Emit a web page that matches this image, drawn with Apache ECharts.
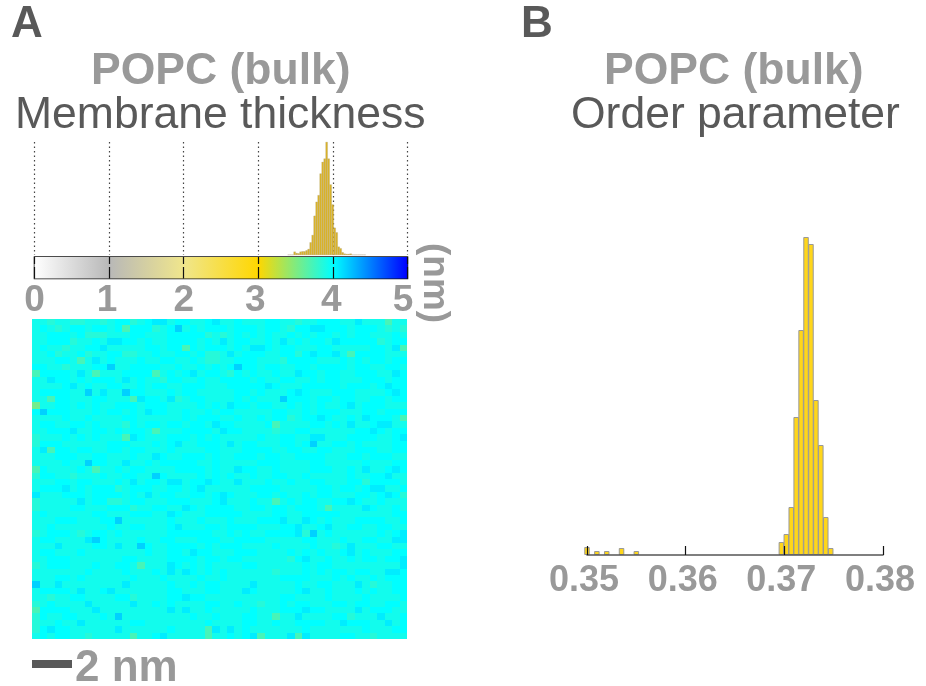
<!DOCTYPE html>
<html><head><meta charset="utf-8">
<style>html,body{margin:0;padding:0;background:#fff}#c{width:926px;height:686px}</style>
<script src="https://cdn.jsdelivr.net/npm/echarts@6/dist/echarts.min.js"></script>
</head><body><div id="c"></div>
<script>
const colorStops = ['#ffffff','#b8b8b8','#f0e68c','#ffd700','#00ffff','#0000ff'];
const colorbarTicks = [0,1,2,3,4,5];
// Panel A histogram: bin centre (nm) and relative count
const thicknessBins = [3.406,3.433,3.46,3.487,3.514,3.541,3.567,3.594,3.621,3.648,3.675,3.702,3.729,3.755,3.782,3.809,3.836,3.863,3.89,3.916,3.943,3.97,3.997,4.024,4.051,4.078,4.104,4.131,4.158,4.185,4.212,4.239,4.266,4.293,4.319,4.346,4.373,4.4,4.427];
const thicknessCounts = [1,1,1,10,6,5,10,11,11,14,18,38,60,118,160,180,245,280,290,340,290,212,152,82,68,25,20,8,4,3,3,4,1,1,1,1,1,1,1];
// Panel B histogram
const orderBins = [0.35,0.351,0.352,0.3535,0.355,0.3697,0.3702,0.3707,0.3712,0.3717,0.3722,0.3727,0.3732,0.3737,0.3742,0.3747];
const orderCounts = [8,4,4,7,4,13,21,48,138,225,318,311,155,110,38,7];
// Panel A map: one digit per cell, indexing thicknessLevels
const thicknessLevels = [3.55,3.72,3.85,3.93,4.0,4.07,4.18];
const thicknessRows = [
"33233 22332 34423 45534 43345 33433 34433 23344 43353 33133",
"34323 44344 34144 42346 34344 43444 34432 44554 44344 43232",
"33444 34222 33344 33344 44423 23434 34334 34344 34344 33343",
"33444 23343 55443 43344 44343 53443 34353 43443 54444 42344",
"34332 33445 33333 44344 14344 43435 54344 33344 33333 44351",
"33423 34233 44223 34334 43422 35344 43344 24544 53144 44333",
"33344 31353 43334 33443 34322 33444 33324 44433 34343 44344",
"44332 33344 63344 44334 33434 34644 34433 44344 44344 33443",
"14444 35313 33444 41343 45344 32434 33433 54434 43344 43354",
"33544 34344 43534 33244 33433 44443 43344 33434 43334 44344",
"33334 53433 44334 34433 44433 34444 45433 34444 43444 34544",
"34444 33635 33644 33343 44333 33443 43334 54333 44433 33454",
"33144 33344 33315 44352 34433 33434 33364 44344 34433 44344",
"03344 34343 34443 44433 33434 35443 44334 34343 34534 44333",
"46444 33343 44343 54433 43343 44333 33443 34344 43334 43444",
"33334 33433 33443 33333 43444 33433 43442 34454 33435 44431",
"34433 44343 33243 44344 34435 44333 34133 33443 43533 45533",
"33444 53344 34344 31333 44443 54433 33233 44333 33344 54344",
"23334 34343 33154 33344 43434 33333 43344 33553 33444 43345",
"24443 33333 44433 34345 33444 35344 33344 34633 44343 33344",
"35144 34433 44344 33343 33344 33344 44334 43344 33344 43344",
"33344 43344 33343 35433 44434 33444 34433 44443 33443 44433",
"33334 33644 33533 43444 44334 33333 44433 33443 33334 33344",
"14333 34313 34344 33334 44434 33544 33433 33444 33435 33454",
"24433 23334 33443 36433 33434 34334 33443 34333 33433 44533",
"33344 34433 34353 44355 34454 33533 34334 33443 33442 44443",
"34445 34344 42344 43344 34533 33334 44433 33344 34434 55334",
"53334 44344 44343 53443 34434 54333 44343 34344 33344 34542",
"23333 35344 22344 33344 43334 53334 33134 34433 44543 34333",
"23333 44333 44423 34433 54344 44334 43443 44431 33335 43343",
"34333 33344 33344 43354 33344 44433 33443 34444 43333 33344",
"33344 43334 46333 33343 33433 34333 44453 35434 33344 44334",
"33433 33333 43344 33345 33344 34444 33344 53345 33443 34433",
"23444 32344 34333 33344 44443 34343 34444 52634 33333 34345",
"34433 33564 33334 33443 33444 33444 43333 34433 34334 43355",
"33353 33344 35336 43344 44343 44433 33433 33433 23533 34433",
"34433 34333 33333 43344 35443 33444 33334 34343 34534 33344",
"33444 33333 33443 33344 44344 34433 33332 45334 33434 43445",
"23444 33343 34431 33354 34343 33344 33333 34344 33333 33335",
"33333 33433 33433 34353 54343 43333 33233 34343 44344 33554",
"33344 34333 33343 33433 33433 43333 33344 44333 43433 43444",
"63353 33333 33533 33343 34344 33335 33333 43344 33353 23344",
"34444 35334 53333 33344 33344 33354 33333 45334 33343 43344",
"33233 44333 34423 33344 54433 33333 33344 33334 33334 33334",
"23433 33533 33353 34343 33344 33433 23343 44333 44344 33443",
"14444 33353 33333 33353 53343 33334 33344 45443 33353 44433",
"24334 43334 36333 33333 34334 33344 33133 53333 44233 35334",
"23343 35333 33344 33333 33343 33344 33433 44443 35444 33534",
"24544 33333 35333 33343 33315 35343 33333 34333 33334 33344",
"34344 33233 33313 34533 33313 34345 13335 15333 34433 23333"
];
const heat = [];
thicknessRows.forEach((row, r) => row.replace(/ /g,'').split('').forEach((d, c) => heat.push([c, r, thicknessLevels[+d]])));
const idx = Array.from({length:50},(_, i)=>i);

const GRAY='#999999', DARK='#595959', SANS='"Liberation Sans", Arial, sans-serif';
const colorbarOffsets = {0:0,1:4,2:0,3:6,4:3,5:9};

const chart = echarts.init(document.getElementById('c'), null, {renderer:'canvas'});
function txt(text,x,y,size,weight,color,extra){
  return Object.assign({type:'text',left:x,top:y,z:10,style:{text,fontSize:size,fontWeight:weight,fill:color,fontFamily:SANS}},extra||{});
}
chart.setOption({
  animation:false,
  backgroundColor:'#fff',
  grid:[
    {left:34.5,top:142,width:373,height:113,show:false},
    {left:34.5,top:257,width:373,height:21.5,show:true,borderColor:'#111',borderWidth:1.5,backgroundColor:'transparent'},
    {left:32,top:319,width:375,height:320,show:false},
    {left:587,top:200,width:296,height:355,show:false}
  ],
  xAxis:[
    {gridIndex:0,type:'value',min:0,max:5,interval:1,axisLine:{show:false},axisTick:{show:false},axisLabel:{show:false},
      splitLine:{show:true,lineStyle:{type:[1.5,3],color:'#444',width:1.2}}},
    {gridIndex:1,type:'value',min:0,max:5,interval:1,z:6,axisLine:{show:false},axisTick:{show:false},
      axisLabel:{margin:4,fontFamily:SANS,fontWeight:'bold',fontSize:37,color:GRAY,
        formatter:v=>`{t${v}|${v}}`,
        rich:Object.fromEntries(colorbarTicks.map(t=>['t'+t,{fontFamily:SANS,fontWeight:'bold',fontSize:37,color:GRAY,padding:[0,colorbarOffsets[t],0,0]}]))},
      splitLine:{show:true,lineStyle:{type:[7,3,12,100],color:'#111',width:1.2}}},
    {gridIndex:2,type:'category',data:idx,show:false},
    {gridIndex:3,type:'value',min:0.35,max:0.38,interval:0.01,z:6,
      axisLine:{show:true,lineStyle:{color:'#555',width:1.5}},
      axisTick:{show:true,inside:true,length:9,lineStyle:{color:'#111',width:1.2}},
      splitLine:{show:false},
      axisLabel:{margin:8,padding:[0,6,0,0],fontFamily:SANS,fontWeight:'bold',fontSize:36,color:GRAY,formatter:v=>v.toFixed(2),showMinLabel:true,showMaxLabel:true}}
  ],
  yAxis:[
    {gridIndex:0,type:'value',min:0,max:340,show:false},
    {gridIndex:1,type:'value',min:0,max:1,show:false},
    {gridIndex:2,type:'category',data:idx,inverse:true,show:false},
    {gridIndex:3,type:'value',min:0,max:355,show:false}
  ],
  visualMap:{show:false,type:'continuous',min:0,max:5,seriesIndex:2,dimension:2,inRange:{color:colorStops}},
  series:[
    {type:'bar',xAxisIndex:0,yAxisIndex:0,barWidth:2.1,data:thicknessBins.map((b,i)=>[b,thicknessCounts[i]]),
      itemStyle:{color:'#dcb426',borderColor:'#a09a80',borderWidth:0.25},silent:true},
    {type:'custom',xAxisIndex:1,yAxisIndex:1,z:1,silent:true,data:[[0,5]],
      renderItem:(p,api)=>{
        const a=api.coord([api.value(0),1]), b=api.coord([api.value(1),0]);
        return {type:'rect',shape:{x:a[0],y:a[1],width:b[0]-a[0],height:b[1]-a[1]},
          style:{fill:new echarts.graphic.LinearGradient(0,0,1,0,colorStops.map((c,i)=>({offset:i/(colorStops.length-1),color:c})))}};
      }},
    {type:'custom',xAxisIndex:2,yAxisIndex:2,silent:true,data:heat,encode:{x:0,y:1},progressive:0,
      renderItem:(p,api)=>{
        const c=api.coord([api.value(0),api.value(1)]), s=api.size([1,1]);
        const x0=Math.round(c[0]-s[0]/2), x1=Math.round(c[0]+s[0]/2), y0=Math.round(c[1]-s[1]/2), y1=Math.round(c[1]+s[1]/2);
        return {type:'rect',shape:{x:x0,y:y0,width:x1-x0,height:y1-y0},style:{fill:api.visual('color')}};
      }},
    {type:'bar',xAxisIndex:3,yAxisIndex:3,barWidth:5.5,z:1,data:orderBins.map((b,i)=>[b,orderCounts[i]]),
      itemStyle:{color:'#ffd61a',borderColor:'#999',borderWidth:1},silent:true}
  ],
  graphic:[
    txt('A',11,3,44,'bold',DARK),
    txt('B',521,3,44,'bold',DARK),
    txt('POPC (bulk)',91,49,44.5,'bold',GRAY),
    txt('Membrane thickness',15,93,44.5,'normal',DARK),
    txt('POPC (bulk)',604,49,44.5,'bold',GRAY),
    txt('Order parameter',571,93,44.5,'normal',DARK),
    txt('2 nm',75,647,44,'bold',GRAY),
    {type:'rect',left:32,top:660,shape:{width:40,height:8},style:{fill:DARK},z:10},
    {type:'text',x:453,y:243,rotation:-Math.PI/2,z:10,style:{text:'(nm)',fontSize:37,fontWeight:'bold',fill:GRAY,fontFamily:SANS}}
  ]
});
</script></body></html>
